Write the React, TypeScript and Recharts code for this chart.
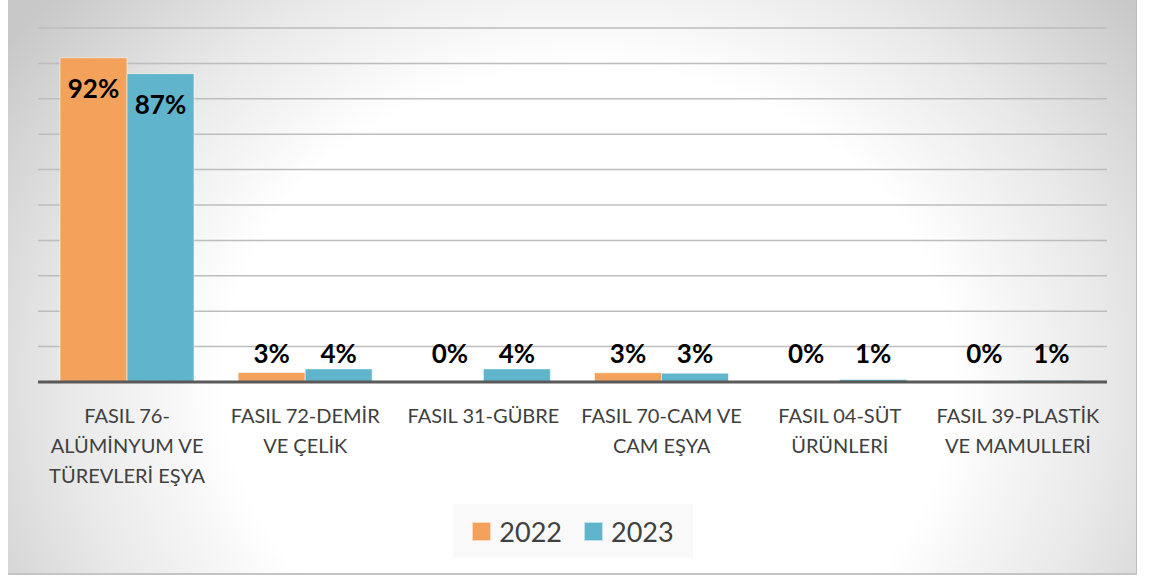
import React from 'react';
import { BarChart, Bar, XAxis, YAxis, CartesianGrid, LabelList } from 'recharts';

const categories = [
  'FASIL 76-\nALÜMİNYUM VE\nTÜREVLERİ EŞYA',
  'FASIL 72-DEMİR\nVE ÇELİK',
  'FASIL 31-GÜBRE',
  'FASIL 70-CAM VE\nCAM EŞYA',
  'FASIL 04-SÜT\nÜRÜNLERİ',
  'FASIL 39-PLASTİK\nVE MAMULLERİ',
];
const values2022 = [91.6, 2.7, 0.2, 2.6, 0.1, 0.1];
const values2023 = [87.1, 3.7, 3.7, 2.5, 0.7, 0.5];
const seriesNames = ['2022', '2023'];
const yTicks = [0, 10, 20, 30, 40, 50, 60, 70, 80, 90, 100];

const ORANGE = '#f3a15b';
const BLUE = '#60b4cb';
const FONT = 'Lato, "Open Sans", sans-serif';

const data = categories.map((c, i) => ({ name: c, v2022: values2022[i], v2023: values2023[i] }));

// Excel style "inside end" labels: inside the top of tall bars, a fixed band above the axis for short ones
const DataLabel = (props: any) => {
  const { x, y, width, height, value } = props;
  const base = y + height;
  const ty = height > 60 ? y + 40 : base - 19;
  return (
    <text x={x + width / 2} y={ty} textAnchor="middle" fill="#000" fontFamily={FONT} fontWeight="bold" fontSize={26}>
      {Math.round(value)}%
    </text>
  );
};

const CategoryTick = ({ x, y, payload }: any) => {
  const lines = String(payload.value).split('\n');
  return (
    <g transform={`translate(${x},${y})`}>
      {lines.map((l, i) => (
        <text key={i} x={0} y={0} dy={33 + i * 30} textAnchor="middle" fill="#404040" fontFamily={FONT} fontSize={20}>
          {l}
        </text>
      ))}
    </g>
  );
};

export default function App() {
  return (
    <div style={{ position: 'absolute', left: 8, top: 0, width: 1129, height: 575 }}>
      <div
        style={{
          position: 'absolute', inset: 0,
          background: 'radial-gradient(ellipse 700px 600px at 580px 380px, #ffffff 0%, #ffffff 52%, #e8e8e8 75%, #c8c8c8 100%)',
          borderRight: '1px solid #bdbdbd', borderBottom: '2px solid #c4c4c4', boxSizing: 'border-box',
        }}
      />
      <div style={{ position: 'absolute', left: 0, top: 0 }}>
        <BarChart width={1129} height={575} data={data} margin={{ top: 28, right: 30, left: 30, bottom: 0 }} barGap={0}>
          <CartesianGrid horizontal vertical={false} stroke="#bdbdbd" strokeWidth={1.5} />
          <YAxis hide domain={[0, 100]} ticks={yTicks} />
          <XAxis dataKey="name" height={193} interval={0} tickLine={false} axisLine={{ stroke: '#595959', strokeWidth: 3 }} tick={<CategoryTick />} />
          <Bar dataKey="v2022" name={seriesNames[0]} fill={ORANGE} stroke="rgba(255,255,255,0.55)" strokeWidth={1} barSize={67} isAnimationActive={false}>
            <LabelList dataKey="v2022" content={<DataLabel />} />
          </Bar>
          <Bar dataKey="v2023" name={seriesNames[1]} fill={BLUE} stroke="rgba(255,255,255,0.55)" strokeWidth={1} barSize={67} isAnimationActive={false}>
            <LabelList dataKey="v2023" content={<DataLabel />} />
          </Bar>
        </BarChart>
      </div>
      <div
        style={{
          position: 'absolute', left: 445, top: 504, width: 240, height: 54, background: 'rgba(235,235,235,0.3)',
          display: 'flex', alignItems: 'center', justifyContent: 'center', gap: 22, fontFamily: FONT, fontSize: 27, color: '#404040',
        }}
      >
        {seriesNames.map((s, i) => (
          <div key={s} style={{ display: 'flex', alignItems: 'center', gap: 8 }}>
            <span style={{ width: 17, height: 17, background: i === 0 ? ORANGE : BLUE, border: '1px solid rgba(255,255,255,0.6)', display: 'inline-block' }} />
            <span>{s}</span>
          </div>
        ))}
      </div>
    </div>
  );
}
